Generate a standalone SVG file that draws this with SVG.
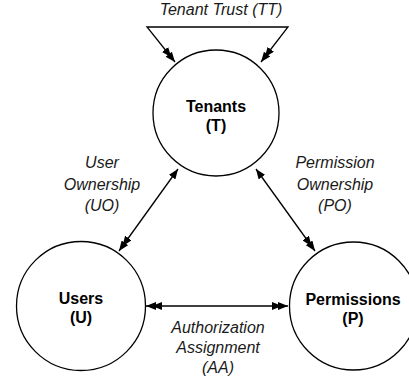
<svg xmlns="http://www.w3.org/2000/svg" width="409" height="381" viewBox="0 0 409 381">
<style>
.node{fill:#fff;stroke:#000;stroke-width:1.3}
.lbl{font-family:"Liberation Sans",Arial,sans-serif;font-size:16px;font-weight:bold;text-anchor:middle;fill:#000}
.rel{font-family:"Liberation Sans",Arial,sans-serif;font-size:16px;font-style:italic;text-anchor:middle;fill:#1a1a1a}
.edge{fill:none;stroke:#000;stroke-width:1.3}
</style>
<defs>
<marker id="one" markerUnits="userSpaceOnUse" viewBox="0 0 10 8" refX="10" refY="4" markerWidth="10" markerHeight="8" orient="auto-start-reverse">
<path d="M0,0 L10,4 L0,8 z" fill="#000"/>
</marker>
<marker id="many" markerUnits="userSpaceOnUse" viewBox="0 0 16 8" refX="16" refY="4" markerWidth="16" markerHeight="8" orient="auto-start-reverse">
<path d="M0,0 L10,4 L0,8 z M6,0 L16,4 L6,8 z" fill="#000"/>
</marker>
</defs>
<g id="connectors">
<path class="edge" d="M218,27 L147,27 L175,62" marker-end="url(#many)"/>
<path class="edge" d="M218,27 L288,27 L261,62" marker-end="url(#many)"/>
<path class="edge" d="M178,169 L119,251" marker-start="url(#one)" marker-end="url(#many)"/>
<path class="edge" d="M256,169 L315,251" marker-start="url(#one)" marker-end="url(#many)"/>
<path class="edge" d="M146,306 L288,306" marker-start="url(#many)" marker-end="url(#many)"/>
</g>
<g id="label-tt"><text class="rel" x="221" y="15">Tenant Trust (TT)</text></g>
<g id="label-uo"><text class="rel" x="102" y="168">User</text><text class="rel" x="102" y="190">Ownership</text><text class="rel" x="102" y="211">(UO)</text></g>
<g id="label-po"><text class="rel" x="335" y="168">Permission</text><text class="rel" x="335" y="190">Ownership</text><text class="rel" x="335" y="211">(PO)</text></g>
<g id="label-aa"><text class="rel" x="218" y="333">Authorization</text><text class="rel" x="218" y="353">Assignment</text><text class="rel" x="218" y="373">(AA)</text></g>
<g id="node-tenants">
<circle class="node" cx="216" cy="113" r="63"/>
<text class="lbl" x="216" y="112">Tenants</text>
<text class="lbl" x="216" y="131">(T)</text>
</g>
<g id="node-users">
<circle class="node" cx="81" cy="306" r="64.5"/>
<text class="lbl" x="81" y="304">Users</text>
<text class="lbl" x="81" y="323">(U)</text>
</g>
<g id="node-permissions">
<circle class="node" cx="353.5" cy="306" r="64"/>
<text class="lbl" x="353" y="305">Permissions</text>
<text class="lbl" x="353" y="324">(P)</text>
</g>
</svg>
